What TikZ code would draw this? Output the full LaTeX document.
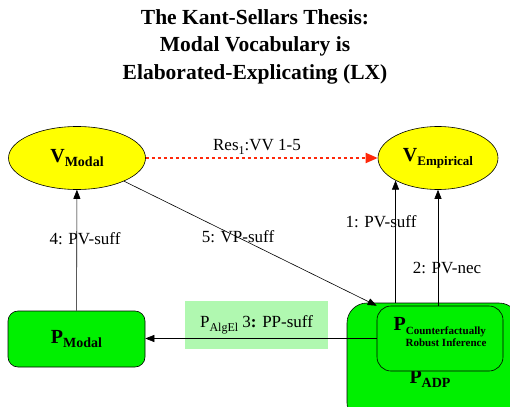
\documentclass[tikz,border=0pt]{standalone}
\usepackage{fontspec}
\setmainfont{Liberation Serif}
\usetikzlibrary{shapes.geometric,arrows.meta}
\definecolor{vyellow}{RGB}{255,255,0}
\definecolor{pgreen}{RGB}{0,240,0}
\definecolor{lgreen}{RGB}{176,248,176}
\definecolor{resred}{RGB}{255,40,10}
\newcommand{\lowsub}[2]{\raisebox{-0.45ex}{\fontsize{#1}{#1}\selectfont #2}}
\tikzstyle{vocab}=[ellipse,draw=black,line width=0.6pt,fill=vyellow,inner sep=0,minimum height=63pt]
\tikzstyle{practice}=[rectangle,draw=black,line width=0.6pt,fill=pgreen,inner sep=0]
\tikzstyle{edgetext}=[inner sep=0,font=\fontsize{17}{17}\selectfont]
\tikzstyle{bigP}=[font=\bfseries\fontsize{20}{20}\selectfont]

\begin{document}
\begin{tikzpicture}[x=1pt,y=-1pt,line width=0.6pt,>={Triangle[length=9pt,width=7pt]}]
        \useasboundingbox (0,0) rectangle (510,406);
        \node[align=center,font=\bfseries\fontsize{21.5}{27.5}\selectfont] (title) at (255,46.5)
            {The Kant-Sellars Thesis:\\Modal Vocabulary is\\Elaborated-Explicating (LX)};

        \node[vocab,bigP,minimum width=137pt] (vmodal) at (77,158) {V\lowsub{14}{Modal}};
        \node[vocab,bigP,minimum width=120pt] (vemp) at (438,158) {V\lowsub{13}{Empirical}};
        \node[practice,bigP,rounded corners=10pt,minimum width=137pt,minimum height=56pt]
            (pmodal) at (76.5,339) {P\lowsub{14}{Modal}};
        \node[practice,rounded corners=20pt,minimum width=172pt,minimum height=120pt]
            (padp) at (433,363) {};
        \node[bigP] (adptext) at (430,379) {P\lowsub{14}{ADP}};
        \node[practice,rounded corners=14pt,minimum width=126pt,minimum height=65pt]
            (pcri) at (440,338.5) {};
        \node[bigP,align=left,inner sep=0] (critext) at (440,332)
            {P\lowsub{11}{Counterfactually}\\[-4pt]
             \hspace*{12pt}{\fontsize{11}{11}\selectfont Robust Inference}};

        \node[edgetext] (res) at (257,147) {Res\lowsub{12}{1}:VV 1-5};
        \node[edgetext] (l4) at (85,239) {4: PV-suff};
        \node[edgetext] (l5) at (238,237) {5: VP-suff};
        \node[edgetext] (l1) at (381,222) {1: PV-suff};
        \node[edgetext] (l2) at (447,268) {2: PV-nec};
        \node[edgetext,fill=lgreen,minimum width=143pt,minimum height=48pt]
            (l3) at (256.5,325) {P\lowsub{12}{AlgEl} 3\textbf{:} PP-suff};

        \draw [->,resred,line width=1.8pt,dash pattern=on 3pt off 3pt,
               >={Triangle[length=12pt,width=10pt]}] (vmodal) -- (vemp);
        \draw [->] (pmodal) -- (vmodal);
        \draw [->] (vmodal) -- (pcri.north west);
        \draw [->] (vemp.208 |- padp.north) -- (vemp.208);
        \draw [->] (vemp.south |- pcri.north) -- (vemp.south);
        \draw [->] (pcri.west) -- (pcri.west -| pmodal.east);
    \end{tikzpicture}
\end{document}
